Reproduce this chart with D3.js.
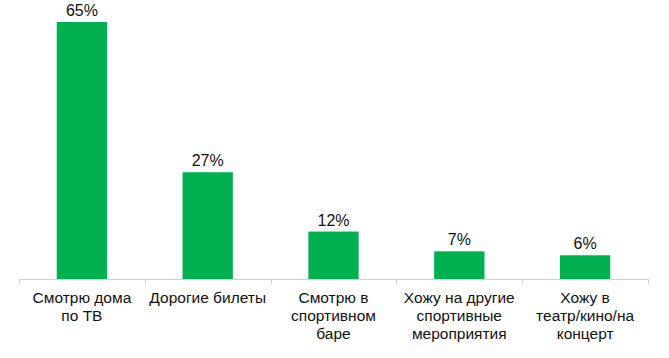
<!DOCTYPE html>
<html><head><meta charset="utf-8">
<script src="https://cdn.jsdelivr.net/npm/d3@7"></script>
<style>body{margin:0;background:#fff;} text{font-family:"Liberation Sans",Arial,sans-serif;fill:#111;}</style>
</head><body>
<svg id="c" width="669" height="358"></svg>
<script>
const categories = [
  ["Смотрю дома", "по ТВ"],
  ["Дорогие билеты"],
  ["Смотрю в", "спортивном", "баре"],
  ["Хожу на другие", "спортивные", "мероприятия"],
  ["Хожу в", "театр/кино/на", "концерт"]
];
const values = [65, 27, 12, 7, 6];
const valueLabels = ["65%", "27%", "12%", "7%", "6%"];

const svg = d3.select("#c");
const mLeft = 19, mRight = 648, base = 279, mTop = 22;
const x = d3.scaleBand().domain(d3.range(values.length)).range([mLeft, mRight]).paddingInner(0.6).paddingOuter(0.3);
const y = d3.scaleLinear().domain([0, 65]).range([base, mTop]);

svg.selectAll("rect.bar").data(values).enter().append("rect")
  .attr("class", "bar")
  .attr("x", (d, i) => x(i))
  .attr("width", x.bandwidth())
  .attr("y", d => y(d))
  .attr("height", d => base - y(d))
  .attr("fill", "#00B050");

svg.selectAll("text.val").data(values).enter().append("text")
  .attr("class", "val")
  .attr("x", (d, i) => x(i) + x.bandwidth() / 2)
  .attr("y", d => y(d) - 6)
  .attr("text-anchor", "middle")
  .attr("font-size", 16)
  .text((d, i) => valueLabels[i]);

// axis
const step = (mRight - mLeft) / values.length;
svg.append("line").attr("x1", mLeft).attr("x2", mRight).attr("y1", base + 0.5).attr("y2", base + 0.5)
  .attr("stroke", "#d0d0d0").attr("stroke-width", 1);
d3.range(values.length + 1).forEach(i => {
  const xx = Math.round(mLeft + i * step) + 0.5;
  svg.append("line").attr("x1", xx).attr("x2", xx).attr("y1", base).attr("y2", base + 5)
    .attr("stroke", "#d0d0d0");
});

categories.forEach((lines, i) => {
  lines.forEach((l, j) => {
    svg.append("text")
      .attr("x", x(i) + x.bandwidth() / 2)
      .attr("y", 303 + j * 18)
      .attr("text-anchor", "middle")
      .attr("font-size", 15.5)
      .text(l);
  });
});
</script>
</body></html>
